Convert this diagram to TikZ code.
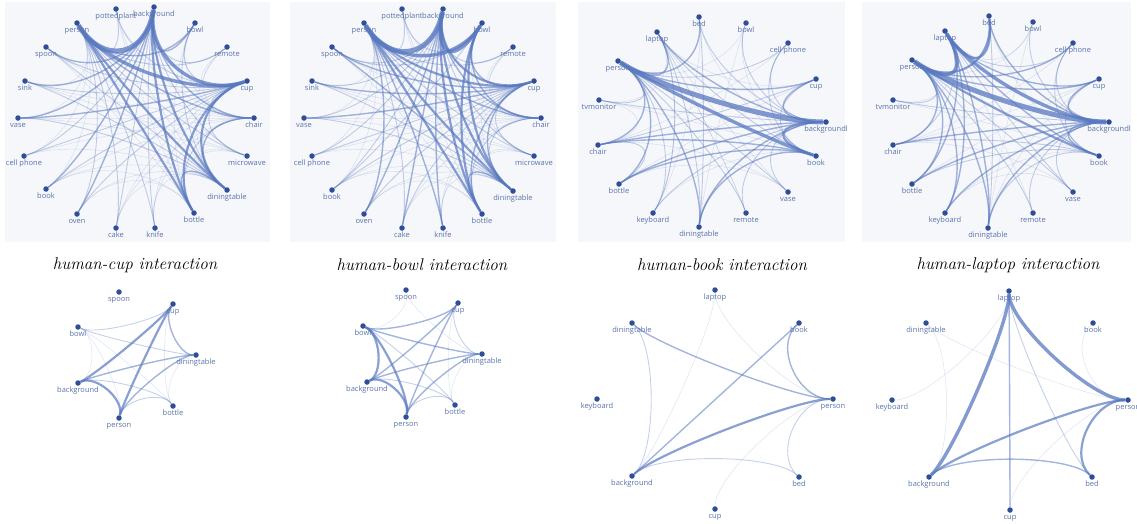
\documentclass[tikz,border=0pt]{standalone}
\usepackage{fontspec}
\newfontfamily\plotfont{Open Sans}
\usetikzlibrary{calc}
\definecolor{plotbg}{RGB}{246,247,250}
\definecolor{edgeblue}{RGB}{88,120,192}
\definecolor{dotblue}{RGB}{48,78,152}
\definecolor{lblblue}{RGB}{90,116,172}
\pgfdeclarelayer{edges}
\pgfsetlayers{edges,main}

\begin{document}
\begin{tikzpicture}[x=1pt,y=-1pt,
  dot/.style={circle,fill=dotblue,inner sep=0pt,minimum size=5.5pt},
  lbl/.style={font=\plotfont\fontsize{7.5}{8}\selectfont,text=lblblue,inner sep=0.5pt,text height=5.5pt,text depth=1.5pt},
  captxt/.style={font=\fontsize{17}{20}\selectfont\itshape,inner sep=0pt},
  panel/.style={fill=plotbg,draw=none},
  e1/.style={draw=edgeblue,line width=0.6pt,draw opacity=0.18},
  e2/.style={draw=edgeblue,line width=0.9pt,draw opacity=0.35},
  e3/.style={draw=edgeblue,line width=1.4pt,draw opacity=0.55},
  e4/.style={draw=edgeblue,line width=2.2pt,draw opacity=0.7},
  e5/.style={draw=edgeblue,line width=3.4pt,draw opacity=0.75},
  e6/.style={draw=edgeblue,line width=5pt,draw opacity=0.75},
  chord/.style={to path={.. controls ($(\ctr)!\bnd!(\tikztostart)$) and ($(\ctr)!\bnd!(\tikztotarget)$) .. (\tikztotarget)}}]
\useasboundingbox (0,0) rectangle (1137,523);

\begin{pgfonlayer}{edges}
  \fill[panel] (5,2) rectangle (270,242);
  \fill[panel] (290,2) rectangle (556,242);
  \fill[panel] (578,2) rectangle (845,242);
  \fill[panel] (862,2) rectangle (1131,242);
\end{pgfonlayer}

% centres of the eight circles
\coordinate (c1) at (136,118);
\coordinate (c2) at (422,118);
\coordinate (c3) at (712,122);
\coordinate (c4) at (1001,122);
\coordinate (c5) at (137,355);
\coordinate (c6) at (422,354);
\coordinate (c7) at (715,399);
\coordinate (c8) at (1010,400);

% human-cup (top)
\foreach \n/\x/\y/\t in {person/77/23/person, potted/116/9/pottedplant, bg/154/7/background,
  bowl/195/23/bowl, remote/227/47/remote, cup/247/81/cup, chair/254/118/chair,
  micro/247/156/microwave, table/227/190/diningtable, bottle/194/213/bottle,
  knife/155/228/knife, cake/116/228/cake, oven/77/214/oven, book/46/189/book,
  phone/24/156/cell phone, vase/18/118/vase, sink/25/81/sink, spoon/46/47/spoon}
  \node[dot,label={[lbl,label distance=0.5pt]below:\t}] (p1-\n) at (\x,\y) {};
\begin{pgfonlayer}{edges}
\def\ctr{c1}\def\bnd{0.55}
\foreach \a/\b in {spoon/chair, spoon/bottle, sink/chair, sink/micro, vase/micro, vase/chair,
  phone/table, phone/chair, book/table, book/chair, oven/table, oven/bottle, book/bottle,
  cake/cup, cake/table, knife/cup, knife/table, bowl/bottle, remote/table, remote/cup,
  potted/table, potted/bottle, spoon/person, sink/person, vase/person, phone/person,
  book/person, micro/table, micro/bottle, cake/chair, knife/chair, remote/chair,
  potted/chair, bowl/chair}
  \draw[e1] (p1-\a) to[chord] (p1-\b);
\foreach \a/\b in {spoon/cup, spoon/table, sink/cup, sink/table, vase/table, phone/bg,
  phone/cup, book/cup, oven/cup, oven/person, cake/person, cake/bg, knife/person, knife/bg,
  micro/person, micro/bg, remote/person, remote/bg, bowl/cup, potted/person, potted/cup,
  bottle/chair, micro/cup, chair/cup, bowl/table}
  \draw[e2] (p1-\a) to[chord] (p1-\b);
\foreach \a/\b in {bg/bowl, bg/chair, person/chair, vase/cup, vase/bg, sink/bg, table/bottle,
  book/bg, oven/bg, chair/table, person/bowl, spoon/bg}
  \draw[e3] (p1-\a) to[chord] (p1-\b);
\foreach \a/\b in {person/table, person/bottle, bg/bottle, cup/table, cup/bottle, bg/table}
  \draw[e4] (p1-\a) to[chord] (p1-\b);
\foreach \a/\b in {bg/cup, person/cup}
  \draw[e5] (p1-\a) to[chord] (p1-\b);
\draw[e6] (p1-person) to[chord] (p1-bg);
\end{pgfonlayer}

% human-bowl (top)
\foreach \n/\x/\y/\t in {person/364/23/person, potted/402/9/pottedplant, bg/443/9/background,
  bowl/482/23/bowl, remote/513/47/remote, cup/534/81/cup, chair/541/118/chair,
  micro/534/156/microwave, table/513/191/diningtable, bottle/482/214/bottle,
  knife/443/228/knife, cake/402/228/cake, oven/364/214/oven, book/332/190/book,
  phone/312/156/cell phone, vase/304/118/vase, sink/312/81/sink, spoon/332/47/spoon}
  \node[dot,label={[lbl,label distance=0.5pt]below:\t}] (p2-\n) at (\x,\y) {};
\begin{pgfonlayer}{edges}
\def\ctr{c2}\def\bnd{0.55}
\foreach \a/\b in {spoon/chair, spoon/bottle, sink/chair, sink/micro, vase/micro, vase/chair,
  phone/table, phone/chair, book/table, book/chair, oven/table, oven/bottle, book/bottle,
  cake/table, knife/cup, knife/table, remote/table, remote/cup, potted/table, potted/bottle,
  spoon/person, sink/person, vase/person, phone/person, book/person, micro/table,
  micro/bottle, cake/chair, knife/chair, remote/chair, potted/chair, micro/bowl}
  \draw[e1] (p2-\a) to[chord] (p2-\b);
\foreach \a/\b in {spoon/bg, spoon/bowl, sink/bg, sink/table, vase/bg, vase/table, phone/bg,
  phone/cup, book/bg, book/cup, oven/cup, cake/person, cake/cup, micro/person, micro/bg,
  remote/person, remote/bg, potted/person, potted/bowl, chair/table, bottle/chair,
  micro/cup, chair/cup, book/bowl}
  \draw[e2] (p2-\a) to[chord] (p2-\b);
\foreach \a/\b in {bowl/cup, cup/table, cup/bottle, spoon/cup, spoon/table, person/chair,
  bg/chair, oven/bg, oven/person, cake/bg, knife/bg, knife/person, table/bottle, vase/cup,
  sink/cup, bowl/chair}
  \draw[e3] (p2-\a) to[chord] (p2-\b);
\foreach \a/\b in {person/table, person/bottle, bg/table, bg/bottle, bowl/table, bowl/bottle,
  person/cup, bg/cup}
  \draw[e4] (p2-\a) to[chord] (p2-\b);
\foreach \a/\b in {person/bowl, bg/bowl}
  \draw[e5] (p2-\a) to[chord] (p2-\b);
\draw[e6] (p2-person) to[chord] (p2-bg);
\end{pgfonlayer}

% human-book (top)
\foreach \n/\x/\y/\t in {person/618/61/person, laptop/657/32/laptop, bed/699/17/bed,
  bowl/746/23/bowl, phone/788/43/cell phone, cup/816/79/cup, bg/826/122/backgroundl,
  book/816/156/book, vase/788/192/vase, remote/746/213/remote, table/699/227/diningtable,
  keyboard/653/213/keyboard, bottle/619/184/bottle, chair/598/145/chair, tv/599/100/tvmonitor}
  \node[dot,label={[lbl,label distance=0.5pt]below:\t}] (p3-\n) at (\x,\y) {};
\begin{pgfonlayer}{edges}
\def\ctr{c3}\def\bnd{0.55}
\foreach \a/\b in {laptop/cup, laptop/vase, bed/book, bowl/book, bowl/person, phone/chair,
  cup/bottle, tv/book, tv/laptop, remote/laptop, keyboard/book, keyboard/laptop,
  chair/vase, bottle/vase, bed/keyboard, tv/chair, bowl/table, laptop/remote}
  \draw[e1] (p3-\a) to[chord] (p3-\b);
\foreach \a/\b in {laptop/book, laptop/table, bed/bg, bowl/bg, phone/bg, phone/book,
  phone/person, cup/book, cup/chair, tv/bg, tv/person, vase/bg, vase/person, remote/bg,
  remote/person, keyboard/person, keyboard/bg, chair/bottle, laptop/keyboard, bed/table}
  \draw[e2] (p3-\a) to[chord] (p3-\b);
\foreach \a/\b in {person/table, person/chair, person/bottle, chair/bg, bottle/bg, table/bg,
  person/cup, person/laptop, person/bed, cup/bg, chair/book, bottle/book, table/book,
  laptop/bg}
  \draw[e3] (p3-\a) to[chord] (p3-\b);
\draw[e4] (p3-bg) to[chord] (p3-book);
\draw[e5] (p3-person) to[chord] (p3-book);
\draw[e6] (p3-person) to[chord] (p3-bg);
\end{pgfonlayer}

% human-laptop (top)
\foreach \n/\x/\y/\t in {person/912/60/person, laptop/945/31/laptop, bed/989/16/bed,
  bowl/1033/22/bowl, phone/1073/43/cell phone, cup/1099/79/cup, bg/1109/122/backgroundl,
  book/1099/156/book, vase/1073/192/vase, remote/1033/213/remote, table/988/228/diningtable,
  keyboard/945/213/keyboard, bottle/912/184/bottle, chair/893/145/chair, tv/893/100/tvmonitor}
  \node[dot,label={[lbl,label distance=0.5pt]below:\t}] (p4-\n) at (\x,\y) {};
\begin{pgfonlayer}{edges}
\def\ctr{c4}\def\bnd{0.55}
\foreach \a/\b in {bowl/person, bowl/laptop, tv/book, tv/laptop, remote/laptop,
  keyboard/book, chair/cup, bottle/cup, cup/table, bed/book, chair/vase, bowl/table,
  phone/chair, vase/keyboard}
  \draw[e1] (p4-\a) to[chord] (p4-\b);
\foreach \a/\b in {laptop/chair, bowl/bg, phone/bg, phone/book, cup/book, tv/bg, tv/person,
  vase/bg, vase/person, remote/bg, remote/person, chair/book, bottle/book, table/book,
  laptop/phone, bed/table, laptop/vase}
  \draw[e2] (p4-\a) to[chord] (p4-\b);
\foreach \a/\b in {person/table, person/chair, person/bottle, person/keyboard, chair/bg,
  bottle/bg, keyboard/bg, table/bg, person/cup, laptop/book, laptop/table, laptop/keyboard,
  laptop/bottle, cup/bg, book/bg, laptop/cup, person/phone, bed/bg}
  \draw[e3] (p4-\a) to[chord] (p4-\b);
\foreach \a/\b in {laptop/bed, person/bed, person/book}
  \draw[e4] (p4-\a) to[chord] (p4-\b);
\foreach \a/\b in {laptop/bg, laptop/person}
  \draw[e5] (p4-\a) to[chord] (p4-\b);
\draw[e6] (p4-person) to[chord] (p4-bg);
\end{pgfonlayer}

% captions
\node[captxt] (cap1) at (135,265) {human-cup interaction};
\node[captxt] (cap2) at (422,265) {human-bowl interaction};
\node[captxt] (cap3) at (722,265) {human-book interaction};
\node[captxt] (cap4) at (1008,265) {human-laptop interaction};

% human-cup (bottom)
\foreach \n/\x/\y/\t in {spoon/119/292/spoon, cup/173/304/cup, table/196/355/diningtable,
  bottle/173/406/bottle, person/119/418/person, bg/78/383/background, bowl/78/327/bowl}
  \node[dot,label={[lbl,label distance=0.5pt]below:\t}] (p5-\n) at (\x,\y) {};
\begin{pgfonlayer}{edges}
\def\ctr{c5}\def\bnd{0.7}
\foreach \a/\b in {cup/bottle, table/bottle, bowl/bottle, bowl/person, bowl/bg}
  \draw[e1] (p5-\a) to[chord] (p5-\b);
\foreach \a/\b in {bowl/table, bowl/cup, bg/bottle, person/bottle}
  \draw[e2] (p5-\a) to[chord] (p5-\b);
\foreach \a/\b in {bg/table, cup/table, person/table}
  \draw[e3] (p5-\a) to[chord] (p5-\b);
\foreach \a/\b in {bg/person, bg/cup, person/cup}
  \draw[e4] (p5-\a) to[chord] (p5-\b);
\end{pgfonlayer}

% human-bowl (bottom)
\foreach \n/\x/\y/\t in {spoon/406/290/spoon, cup/458/303/cup, table/482/354/diningtable,
  bottle/455/405/bottle, person/406/417/person, bg/367/382/background, bowl/363/326/bowl}
  \node[dot,label={[lbl,label distance=0.5pt]below:\t}] (p6-\n) at (\x,\y) {};
\begin{pgfonlayer}{edges}
\def\ctr{c6}\def\bnd{0.7}
\foreach \a/\b in {spoon/bowl, cup/bottle, table/bottle, spoon/table}
  \draw[e1] (p6-\a) to[chord] (p6-\b);
\foreach \a/\b in {bowl/bottle, cup/table, bg/bottle, person/bottle}
  \draw[e2] (p6-\a) to[chord] (p6-\b);
\foreach \a/\b in {bowl/table, bg/table, bg/cup, person/cup, person/table, bowl/cup}
  \draw[e3] (p6-\a) to[chord] (p6-\b);
\foreach \a/\b in {bowl/bg, bowl/person, bg/person}
  \draw[e4] (p6-\a) to[chord] (p6-\b);
\end{pgfonlayer}

% human-book (bottom)
\foreach \n/\x/\y/\t in {laptop/715/290/laptop, book/799/323/book, person/833/399/person,
  bed/799/477/bed, cup/715/509/cup, bg/632/476/background, keyboard/597/399/keyboard,
  table/632/323/diningtable}
  \node[dot,label={[lbl,label distance=0.5pt]below:\t}] (p7-\n) at (\x,\y) {};
\begin{pgfonlayer}{edges}
\def\ctr{c7}\def\bnd{0.7}
\foreach \a/\b in {laptop/bg, laptop/person, cup/person}
  \draw[e1] (p7-\a) to[chord] (p7-\b);
\foreach \a/\b in {table/bg, bg/bed, bed/person}
  \draw[e2] (p7-\a) to[chord] (p7-\b);
\foreach \a/\b in {person/book, bg/book, table/person}
  \draw[e3] (p7-\a) to[chord] (p7-\b);
\draw[e4] (p7-bg) to[chord] (p7-person);
\end{pgfonlayer}

% human-laptop (bottom)
\foreach \n/\x/\y/\t in {laptop/1009/291/laptop, book/1093/323/book, person/1128/400/person,
  bed/1092/477/bed, cup/1010/510/cup, bg/929/477/background, keyboard/892/400/keyboard,
  table/926/323/diningtable}
  \node[dot,label={[lbl,label distance=0.5pt]below:\t}] (p8-\n) at (\x,\y) {};
\begin{pgfonlayer}{edges}
\def\ctr{c8}\def\bnd{0.7}
\foreach \a/\b in {keyboard/laptop, table/person, table/bg, book/person, cup/person}
  \draw[e1] (p8-\a) to[chord] (p8-\b);
\draw[e3] (p8-laptop) to[chord] (p8-cup);
\foreach \a/\b in {laptop/bed}
  \draw[e2] (p8-\a) to[chord] (p8-\b);
\foreach \a/\b in {bg/bed}
  \draw[e3] (p8-\a) to[chord] (p8-\b);
\foreach \a/\b in {bg/person, person/bed}
  \draw[e4] (p8-\a) to[chord] (p8-\b);
\foreach \a/\b in {laptop/person, laptop/bg}
  \draw[e5] (p8-\a) to[chord] (p8-\b);
\end{pgfonlayer}
\end{tikzpicture}
\end{document}
